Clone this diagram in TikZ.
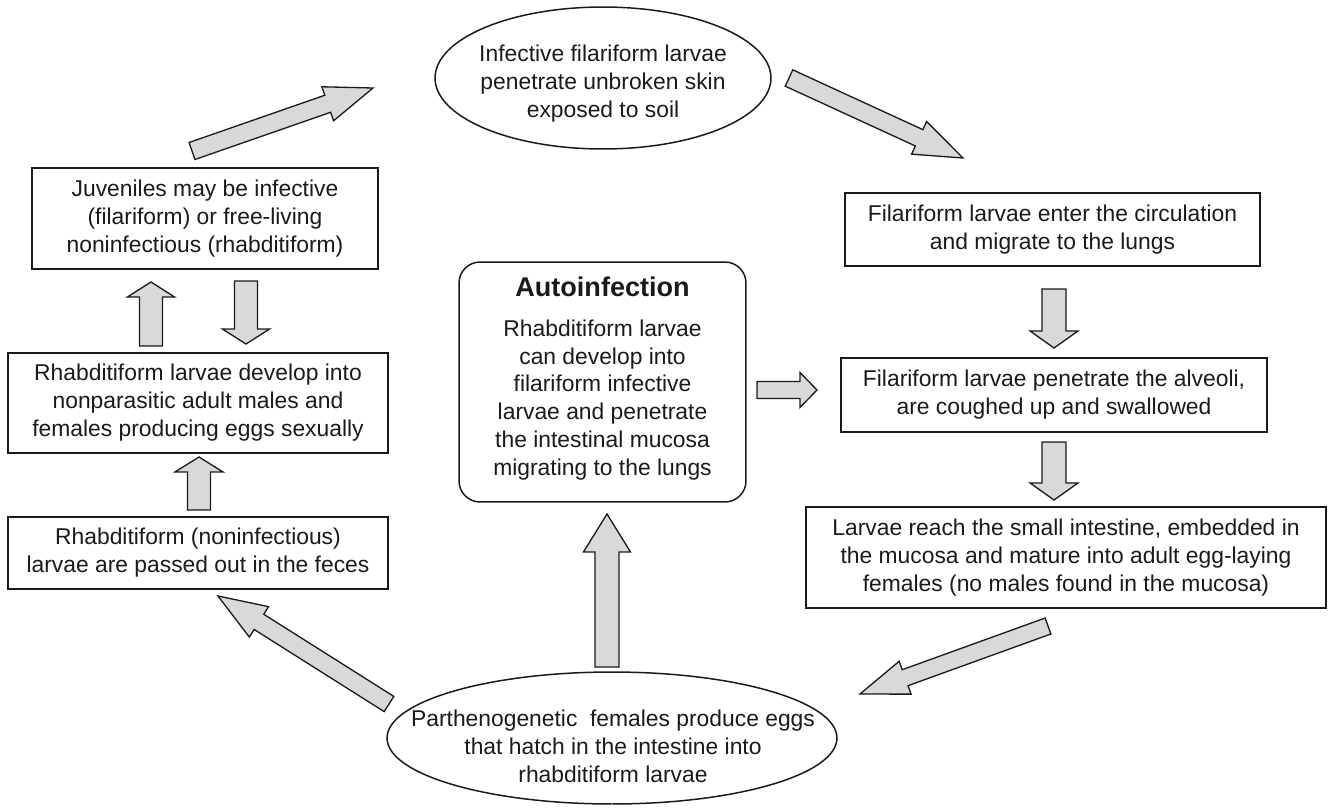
\documentclass[tikz,border=0pt]{standalone}
\usepackage{fontspec}
\setmainfont{Liberation Sans}
\usetikzlibrary{calc,shapes.geometric}
\definecolor{arrfill}{HTML}{D9D9D9}
\definecolor{ink}{HTML}{1A1A1A}
% #1 from, #2 to, #3 shaft half width, #4 head half width, #5 head length (pt)
\newcommand{\myblockarrow}[5]{%
  \draw[blockarr] let \p1=(#1), \p2=(#2),
    \n1={atan2(\y2-\y1,\x2-\x1)},
    \n2={veclen(\x2-\x1,\y2-\y1)-#5} in
    ($(\p1)+({\n1+90}:#3)$)
    -- ($(\p1)+({\n1}:{\n2})+({\n1+90}:#3)$)
    -- ($(\p1)+({\n1}:{\n2})+({\n1+90}:#4)$)
    -- (\p2)
    -- ($(\p1)+({\n1}:{\n2})+({\n1-90}:#4)$)
    -- ($(\p1)+({\n1}:{\n2})+({\n1-90}:#3)$)
    -- ($(\p1)+({\n1-90}:#3)$)
    -- cycle;}
\begin{document}
\begin{tikzpicture}[x=0.02cm, y=-0.02cm,
  txt/.style={align=center, font=\fontsize{13.0}{15.9}\selectfont, inner sep=0pt, text=ink},
  box/.style={txt, draw=ink, line width=0.85pt},
  oval/.style={ellipse, draw=ink, line width=0.85pt, inner sep=0pt},
  blockarr/.style={draw=ink, line width=0.75pt, fill=arrfill, line join=miter}]
\useasboundingbox (0,0) rectangle (1334,808);

% ovals
\node[oval, minimum width=6.72cm, minimum height=2.84cm] (top) at (603,78) {};
\node[txt] (toptxt) at (603,84) {Infective filariform larvae\\penetrate unbroken skin\\exposed to soil};
\node[oval, minimum width=9.0cm, minimum height=2.64cm] (bot) at (612,738) {};
\node[txt] (bottxt) at (613,746) {Parthenogenetic~ females produce eggs\\that hatch in the intestine into\\rhabditiform larvae};

% left column
\node[box, minimum width=6.92cm, minimum height=2.02cm] (juv) at (205,218.5) {Juveniles may be infective\\(filariform) or free-living\\noninfectious (rhabditiform)};
\node[box, minimum width=7.6cm, minimum height=2.0cm] (dev) at (198,403) {Rhabditiform larvae develop into\\nonparasitic adult males and\\females producing eggs sexually};
\node[box, minimum width=7.6cm, minimum height=1.44cm] (pass) at (198,553) {Rhabditiform (noninfectious)\\larvae are passed out in the feces};

% centre
\node[draw=ink, line width=0.85pt, rounded corners=0.42cm, minimum width=5.74cm, minimum height=4.8cm] (auto) at (602.5,382) {};
\node[txt, font=\fontsize{15.4}{18}\selectfont\bfseries] (autotitle) at (602.5,287) {Autoinfection};
\node[txt] (autotxt) at (602.5,400) {Rhabditiform larvae\\can develop into\\filariform infective\\larvae and penetrate\\the intestinal mucosa\\migrating to the lungs};

% right column
\node[box, minimum width=8.3cm, minimum height=1.46cm] (circ) at (1052.5,229.5) {Filariform larvae enter the circulation\\and migrate to the lungs};
\node[box, minimum width=8.52cm, minimum height=1.48cm] (alv) at (1054,395) {Filariform larvae penetrate the alveoli,\\are coughed up and swallowed};
\node[box, minimum width=10.4cm, minimum height=2.02cm] (intes) at (1066,557.5) {Larvae reach the small intestine, embedded in\\the mucosa and mature into adult egg-laying\\females (no males found in the mucosa)};

% arrow end points
\coordinate (a1s) at (192,151);  \coordinate (a1e) at (373,88);
\coordinate (a2s) at (789,78);   \coordinate (a2e) at (963,158);
\coordinate (a5s) at (1048,626); \coordinate (a5e) at (860,694);
\coordinate (a6s) at (389,704);  \coordinate (a6e) at (218,596);
\coordinate (a7s) at (607,667);  \coordinate (a7e) at (607,514);
\coordinate (a3s) at (1054,289); \coordinate (a3e) at (1054,348);
\coordinate (a4s) at (1054,442); \coordinate (a4e) at (1054,500);
\coordinate (a9s) at (151,346);  \coordinate (a9e) at (151,282);
\coordinate (a10s) at (246,281); \coordinate (a10e) at (246,344);
\coordinate (a8s) at (199,510);  \coordinate (a8e) at (199,457);
\coordinate (a11s) at (757,390); \coordinate (a11e) at (817,390);

% block arrows
\myblockarrow{a1s}{a1e}{0.18cm}{0.36cm}{27.3}
\myblockarrow{a2s}{a2e}{0.18cm}{0.36cm}{27.3}
\myblockarrow{a5s}{a5e}{0.17cm}{0.35cm}{27.3}
\myblockarrow{a6s}{a6e}{0.18cm}{0.36cm}{27.3}
\myblockarrow{a7s}{a7e}{0.24cm}{0.47cm}{21.6}
\myblockarrow{a3s}{a3e}{0.24cm}{0.48cm}{9.7}
\myblockarrow{a4s}{a4e}{0.24cm}{0.48cm}{9.7}
\myblockarrow{a9s}{a9e}{0.23cm}{0.47cm}{8.5}
\myblockarrow{a10s}{a10e}{0.23cm}{0.47cm}{8.5}
\myblockarrow{a8s}{a8e}{0.23cm}{0.48cm}{8.5}
\myblockarrow{a11s}{a11e}{0.17cm}{0.35cm}{9.7}
\end{tikzpicture}
\end{document}
